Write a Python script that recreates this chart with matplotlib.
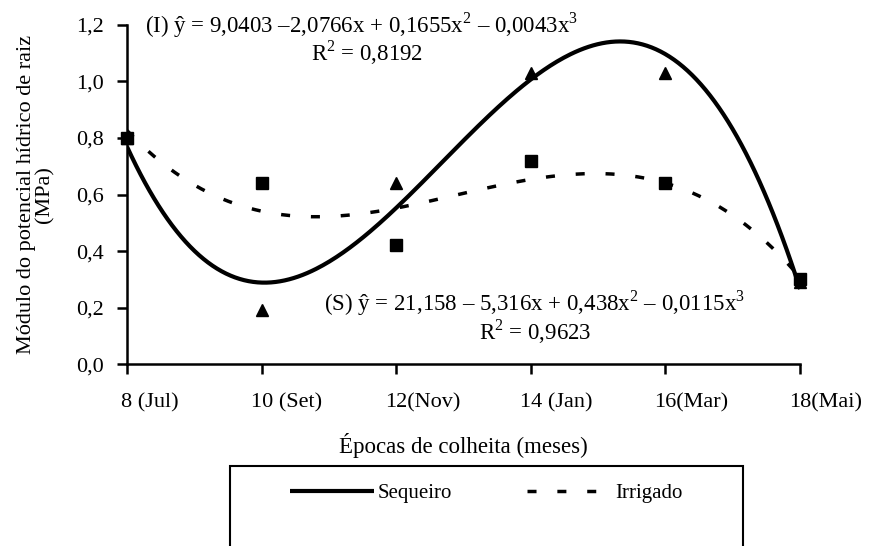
import numpy as np
import matplotlib
matplotlib.use('Agg')
import matplotlib.pyplot as plt
from matplotlib.patches import Rectangle

plt.rcParams['font.family'] = ['Liberation Serif', 'DejaVu Serif']
plt.rcParams['mathtext.fontset'] = 'custom'
plt.rcParams['mathtext.rm'] = 'Liberation Serif'

# Data (harvest times in months after planting)
epocas = [8, 10, 12, 14, 16, 18]
tick_labels = ['8 (Jul)', '10 (Set)', '12(Nov)', '14 (Jan)', '16(Mar)', '18(Mai)']
sequeiro = [0.80, 0.19, 0.64, 1.03, 1.03, 0.29]
irrigado = [0.80, 0.64, 0.42, 0.72, 0.64, 0.30]

# cubic regressions of each series
coef_s = np.polyfit(epocas, sequeiro, 3)
coef_i = np.polyfit(epocas, irrigado, 3)
xs = np.linspace(8, 18, 300)

fig = plt.figure(figsize=(8.7, 5.46), dpi=100)
ax = fig.add_axes([0.146, 0.333, 0.7736, 0.6214])

line_s, = ax.plot(xs, np.polyval(coef_s, xs), color='black', lw=3.0, solid_capstyle='butt')
line_i, = ax.plot(xs, np.polyval(coef_i, xs), color='black', lw=2.5,
                  linestyle=(0, (2.6, 6)), dash_capstyle='butt')
ax.plot(epocas, sequeiro, '^', color='black', ms=9, zorder=4, clip_on=False)
ax.plot(epocas, irrigado, 's', color='black', ms=8.5, zorder=4, clip_on=False)

ax.set_xlim(8, 18)
ax.set_ylim(0, 1.2)
ax.set_xticks(epocas)
ax.set_xticklabels([])
yt = np.arange(0, 1.21, 0.2)
ax.set_yticks(yt)
ax.set_yticklabels([f'{v:.1f}'.replace('.', ',') for v in yt])

# x labels: the number sits on the tick, the month follows it
for x, txt in zip(epocas, tick_labels):
    num = txt.split('(')[0].strip()
    ax.annotate(txt, xy=(x, 0), xycoords=('data', 'axes fraction'),
                xytext=(-4.0 * len(num), -28), textcoords='offset points',
                ha='left', va='center', fontsize=16, annotation_clip=False)

for s in ['top', 'right']:
    ax.spines[s].set_visible(False)
for s in ['left', 'bottom']:
    ax.spines[s].set_linewidth(1.8)
ax.tick_params(direction='out', length=7, width=1.8, labelsize=16)
ax.tick_params(axis='y', pad=10)

ax.set_xlabel('Épocas de colheita (meses)', fontsize=16.5, va='center')
ax.xaxis.set_label_coords(0.5, -0.241)
ax.set_ylabel('Módulo do potencial hídrico de raiz\n(MPa)', fontsize=16, labelpad=15,
              linespacing=0.95)

ax.text(8.27, 1.20, '(I) ŷ = 9,0403 –2,0766x + 0,1655x$^{2}$ – 0,0043x$^{3}$',
        fontsize=16.5, ha='left', va='center')
ax.text(11.57, 1.10, 'R$^{2}$ = 0,8192', fontsize=16.5, ha='center', va='center')
ax.text(14.05, 0.215, '(S) ŷ = 21,158 – 5,316x + 0,438x$^{2}$ – 0,0115x$^{3}$',
        fontsize=16.5, ha='center', va='center')
ax.text(14.06, 0.115, 'R$^{2}$ = 0,9623', fontsize=16.5, ha='center', va='center')

fig.legend([line_s, line_i], ['Sequeiro', 'Irrigado'], ncol=2, loc='center',
           bbox_to_anchor=(0.559, 0.097), frameon=False, fontsize=15,
           handlelength=4.0, handletextpad=0.2, columnspacing=3.6)
fig.patches.append(Rectangle((0.2644, -0.05), 0.5897, 0.1965, transform=fig.transFigure,
                             fill=False, edgecolor='black', lw=1.5))

fig.savefig('out.png', dpi=100)
